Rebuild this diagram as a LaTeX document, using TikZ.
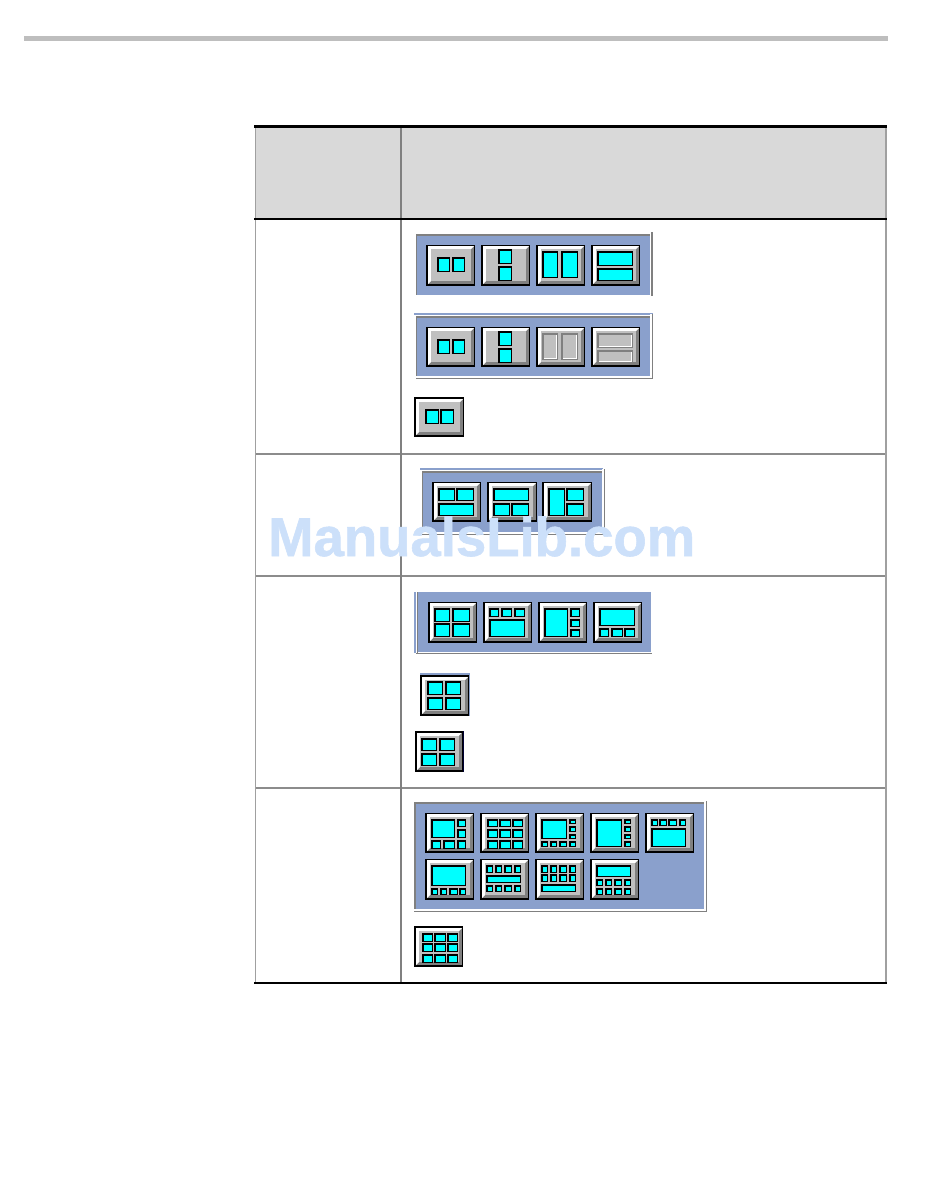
\documentclass[tikz,border=0pt]{standalone}
\usepackage{fontspec}
\setmainfont{Liberation Sans}[BoldFeatures={FakeBold=1}]
\definecolor{panelblue}{HTML}{8AA0CC}
\definecolor{facegray}{HTML}{C0C0C0}
\definecolor{edgegray}{HTML}{808080}
\definecolor{cyanfill}{HTML}{00FFFF}
\definecolor{headgray}{HTML}{D9D9D9}
\definecolor{rulegray}{HTML}{8C8C8C}
\definecolor{rulelight}{HTML}{A0A0A0}
\definecolor{barcolor}{HTML}{BEBEBE}
\definecolor{markblue}{HTML}{CCE0FA}
\newcommand{\cyb}[4]{\fill[black] (#1,#2) rectangle (#3,#4);\fill[cyanfill] (#1+1.5,#2+1.5) rectangle (#3-1.5,#4-1.5);}
\newcommand{\dis}[4]{\fill[edgegray] (#1,#2) rectangle (#3,#4);\fill[facegray] (#1+2,#2+2) rectangle (#3-1.5,#4-1.5);\draw[white,line width=0.9pt] (#3-2,#2+2) -- (#3-2,#4-2) -- (#1+2,#4-2);}
% x y w h topborder content
\newcommand{\btn}[6]{\begin{scope}[shift={(#1,#2)}]
\fill[black] (0,0) rectangle (#3,#4);
\fill[edgegray] (2,#5) rectangle (#3-1,#4-2);
\fill[white] (2,#5) -- (#3-1,#5) -- (#3-4,#5+3) -- (5,#5+3) -- (5,#4-5) -- (2,#4-2) -- cycle;
\fill[facegray] (5,#5+3) rectangle (#3-4,#4-5);
#6
\end{scope}}
\newcommand{\bn}[5]{\btn{#1}{#2}{#3}{#4}{1}{#5}}
\newcommand{\pnl}[4]{\fill[panelblue] (#1,#2) rectangle (#3,#4);
\fill[edgegray] (#1-1,#2) rectangle (#3,#2+2);
\fill[edgegray] (#1-1,#2) rectangle (#1,#4);}
\newcommand{\rimw}[4]{\fill[white] (#3,#2-1) rectangle (#3+2,#4+2);\fill[white] (#1-1,#4) rectangle (#3+2,#4+2);
\fill[edgegray] (#3+1.6,#2-1) rectangle (#3+2.6,#4+2.6);\fill[edgegray] (#1-1,#4+1.6) rectangle (#3+2.6,#4+2.6);}
\begin{document}
\begin{tikzpicture}[x=1pt,y=-1pt]
\useasboundingbox (0,0) rectangle (950,1183);
\fill[white] (0,0) rectangle (950,1183);
\fill[barcolor] (24,36) rectangle (888,41);
% table
\fill[headgray] (255,127) rectangle (886,218);
\foreach \yy in {454,576,788}{\draw[rulegray,line width=1.2pt] (255,\yy) -- (886,\yy);}
\draw[rulelight,line width=1.4pt] (255.7,127) -- (255.7,983);
\draw[edgegray,line width=1.4pt] (400.8,127) -- (400.8,983);
\draw[rulelight,line width=1.4pt] (886,127) -- (886,983);
\draw[black,line width=2.2pt] (254,126.5) -- (887,126.5);
\draw[black,line width=1.7pt] (254,218.7) -- (887,218.7);
\draw[black,line width=2.2pt] (254,983) -- (887,983);
% panel 1
\pnl{417}{234}{650}{295}
\fill[edgegray] (651,232) rectangle (653,296);
\bn{426}{245}{49}{41}{\cyb{11}{12}{24}{27}\cyb{26}{12}{39}{27}}
\bn{481}{245}{49}{41}{\cyb{17}{4}{31}{19}\cyb{17}{21}{31}{36}}
\bn{536}{245}{49}{41}{\cyb{6}{6}{22}{33}\cyb{25}{6}{42}{33}}
\bn{591}{245}{49}{41}{\cyb{6}{6}{42}{21}\cyb{6}{23}{42}{36}}
% panel 2
\fill[panelblue] (414,313) rectangle (653,315);
\pnl{417}{316}{650}{376}
\rimw{417}{315}{650}{376}
\bn{426}{327}{49}{40}{\cyb{11}{12}{24}{27}\cyb{26}{12}{39}{27}}
\bn{481}{327}{49}{40}{\cyb{17}{4}{31}{19}\cyb{17}{21}{31}{36}}
\bn{536}{327}{49}{40}{\dis{6}{6}{22}{33}\dis{25}{6}{42}{33}}
\bn{591}{327}{49}{40}{\dis{6}{6}{42}{21}\dis{6}{23}{42}{36}}
\btn{414}{397}{50}{40}{2}{\cyb{11}{12}{25}{27}\cyb{26}{12}{40}{27}}
% panel 3
\fill[panelblue] (420,468) rectangle (603,470);
\pnl{423}{471}{602}{532}
\rimw{423}{470}{602}{532}
\bn{432}{482}{49}{40}{\cyb{6}{6}{23}{19}\cyb{24}{6}{42}{19}\cyb{6}{21}{42}{34}}
\bn{487}{482}{50}{40}{\cyb{6}{6}{42}{19}\cyb{6}{21}{23}{34}\cyb{24}{21}{42}{34}}
\bn{542}{482}{50}{40}{\cyb{6}{6}{23}{34}\cyb{24}{6}{42}{19}\cyb{24}{21}{42}{34}}
% panel 4
\fill[panelblue] (414,592) rectangle (416,653);
\fill[panelblue] (417,592) rectangle (651,652);
\fill[edgegray] (417,592) rectangle (418,653);
\fill[edgegray] (416,652.6) rectangle (652,653.6);
\bn{428}{602}{49}{41}{\cyb{6}{6}{22}{20}\cyb{24}{6}{42}{20}\cyb{6}{21}{22}{35}\cyb{24}{21}{42}{35}}
\bn{483}{602}{49}{41}{\cyb{6}{6}{16}{15}\cyb{18}{6}{29}{15}\cyb{31}{6}{42}{15}\cyb{6}{17}{42}{35}}
\bn{538}{602}{49}{41}{\cyb{6}{6}{30}{35}\cyb{32}{6}{42}{15}\cyb{32}{17}{42}{25}\cyb{32}{27}{42}{35}}
\bn{593}{602}{49}{41}{\cyb{6}{6}{42}{24}\cyb{6}{26}{16}{35}\cyb{18}{26}{30}{35}\cyb{31}{26}{42}{35}}
% single quad buttons
\fill[panelblue] (420,673) rectangle (470,675);
\fill[panelblue] (469,673) rectangle (470,716);
\btn{420}{675}{49}{41}{2}{\cyb{7}{6}{23}{20}\cyb{25}{6}{41}{20}\cyb{7}{22}{23}{35}\cyb{25}{22}{41}{35}}
\fill[black!80!blue] (462,731) rectangle (463.5,772);
\btn{415}{731}{47.5}{41}{2}{\cyb{6}{7}{22}{20}\cyb{24}{7}{40}{20}\cyb{6}{22}{22}{35}\cyb{24}{22}{40}{35}}
% panel 5
\pnl{416}{802}{704}{910}
\fill[edgegray] (414,802) rectangle (416,910);
\rimw{415}{802}{704}{909}
\bn{425}{813}{49}{40}{\cyb{6}{6}{30}{25}\cyb{32}{6}{41}{14}\cyb{32}{16}{41}{25}\cyb{6}{27}{16}{36}\cyb{18}{27}{30}{36}\cyb{32}{27}{41}{36}}
\bn{480}{813}{49}{40}{\foreach \a/\b in {7/18,19/31,32/43}{\foreach \c/\d in {6/14,16/25,27/36}{\cyb{\a}{\c}{\b}{\d}}}}
\bn{535}{813}{49}{40}{\cyb{6}{6}{32}{26}\cyb{34}{6}{41}{11}\cyb{34}{13}{41}{19}\cyb{34}{21}{41}{26}\cyb{6}{28}{13}{34}\cyb{15}{28}{22}{34}\cyb{24}{28}{32}{34}\cyb{34}{28}{41}{34}}
\bn{590}{813}{49}{40}{\cyb{6}{6}{32}{34}\cyb{34}{6}{41}{11}\cyb{34}{13}{41}{19}\cyb{34}{21}{41}{26}\cyb{34}{28}{41}{34}}
\bn{645}{813}{49}{40}{\cyb{6}{6}{13}{13}\cyb{14}{6}{22}{13}\cyb{23}{6}{32}{13}\cyb{34}{6}{41}{13}\cyb{6}{15}{41}{34}}
\bn{425}{859}{49}{41}{\cyb{6}{6}{41}{27}\cyb{6}{29}{13}{36}\cyb{15}{29}{22}{36}\cyb{24}{29}{33}{36}\cyb{34}{29}{41}{36}}
\bn{480}{859}{49}{41}{\foreach \a/\b in {6/13,15/22,24/32,34/41}{\cyb{\a}{6}{\b}{14}\cyb{\a}{26}{\b}{33}}\cyb{6}{16}{41}{24}}
\bn{535}{859}{49}{41}{\foreach \a/\b in {6/13,15/22,24/32,34/41}{\cyb{\a}{6}{\b}{14}\cyb{\a}{15}{\b}{23}}\cyb{6}{25}{41}{33}}
\bn{590}{859}{49}{41}{\cyb{6}{6}{41}{18}\foreach \a/\b in {6/13,15/22,24/32,34/41}{\cyb{\a}{20}{\b}{27}\cyb{\a}{29}{\b}{36}}}
\btn{414}{926}{49}{41}{2}{\foreach \a/\b in {8/19,20/32,33/44}{\foreach \c/\d in {7/16,17/26,28/37}{\cyb{\a}{\c}{\b}{\d}}}}
% watermark
\node[anchor=base west,inner sep=0pt,text=markblue,font=\fontsize{54.5}{55}\selectfont\bfseries] (mark) at (268,556) {ManualsLib.com};
\end{tikzpicture}
\end{document}
